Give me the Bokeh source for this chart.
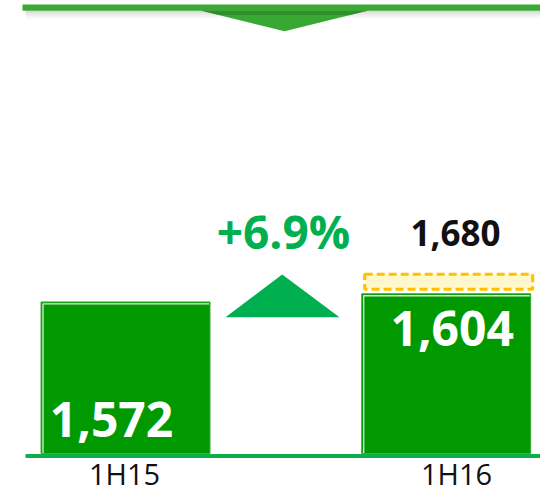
from bokeh.plotting import figure
from bokeh.models import Range1d
from bokeh.core.properties import value
from bokeh.embed import file_html
from bokeh.resources import INLINE

# ---------------- data ----------------
categories = ["1H15", "1H16"]
actual_values = [1572, 1604]
target_value = 1680
growth_label = "+6.9%"

# ---------------- layout (canvas px / value scale) ----------------
W, H = 540, 493
Y_BASE = 980            # value at the bottom of bars (truncated axis)
BASE_PX = 453           # canvas y of the bar bottoms
K = 0.256               # px per value unit
BAR_X = [125.0, 445.7]
BAR_W = 169.0
FONT = value("Open Sans")
BL = 0.38               # empirical baseline correction (fraction of font size)

def to_px(v):
    return BASE_PX - (v - Y_BASE) * K

def txt_y(baseline_px, size):
    return baseline_px - BL * size

y_lo = Y_BASE - (H - BASE_PX) / K
y_hi = Y_BASE + BASE_PX / K

p = figure(width=W, height=H, x_range=Range1d(0, W), y_range=Range1d(y_lo, y_hi),
           output_backend="svg", toolbar_location=None, min_border=0,
           x_axis_location=None, y_axis_location=None)
p.grid.visible = False
p.outline_line_color = None
p.background_fill_color = "white"
p.extra_y_ranges = {"px": Range1d(H, 0)}

# ---------------- top decoration ----------------
for i, a in enumerate([0.30, 0.20, 0.12, 0.06]):
    p.quad(left=25, right=W, bottom=10 + 2 * i, top=12 + 2 * i, y_range_name="px",
           fill_color="#808080", fill_alpha=a, line_color=None)
p.quad(left=22, right=W, bottom=4, top=10.3, y_range_name="px",
       fill_color="#3BAA34", line_color=None)
p.patch(x=[200, 368, 284], y=[10, 10, 30.7], y_range_name="px",
        fill_color="#39A733", line_color=None)
p.patch(x=[200, 368, 350, 218], y=[10, 10, 14.5, 14.5], y_range_name="px",
        fill_color="#2A7F27", fill_alpha=0.6, line_color=None)

# ---------------- bars ----------------
p.vbar(x=BAR_X, top=actual_values, bottom=Y_BASE, width=BAR_W,
       fill_color="#009900", line_color="#3DAA3D", line_width=1)
# inner white bevel line (left and top)
xs, ys = [], []
for xc, v in zip(BAR_X, actual_values):
    l = xc - BAR_W / 2 + 2
    r = xc + BAR_W / 2 - 1
    t = to_px(v) + 2
    xs.append([l, l, r])
    ys.append([BASE_PX - 0.5, t, t])
p.multi_line(xs=xs, ys=ys, y_range_name="px", line_color="white", line_width=1.3, line_alpha=0.85)

# target box (dashed)
p.quad(left=BAR_X[1] - BAR_W / 2 + 3, right=BAR_X[1] + BAR_W / 2 + 2,
       bottom=actual_values[1] + 18, top=target_value,
       fill_color="#FFF8CC", line_color="#FFC000", line_width=3, line_dash="8 4")

# baseline
p.segment(x0=[25], y0=[455.5], x1=[W], y1=[455.5], y_range_name="px",
          line_color="#0DB04B", line_width=4)

# growth arrow
p.patch(x=[225, 339, 281.7], y=[316.7, 316.7, 274], y_range_name="px",
        fill_color="#00B050", line_color=None)

# ---------------- texts ----------------
p.text(x=[BAR_X[0] - 14, BAR_X[1] + 6], y=[txt_y(437, 48), txt_y(346, 48)], y_range_name="px",
       text=[f"{v:,}" for v in actual_values], text_font=FONT, text_font_size="48px",
       text_font_style="bold", text_color="white", text_align="center",
       text_baseline="alphabetic")
p.text(x=[455], y=[txt_y(246, 35)], y_range_name="px", text=[f"{target_value:,}"], text_font=FONT,
       text_font_size="35px", text_font_style="bold", text_color="#111111",
       text_align="center", text_baseline="alphabetic")
p.text(x=[283], y=[txt_y(248, 46)], y_range_name="px", text=[growth_label], text_font=FONT,
       text_font_size="46px", text_font_style="bold", text_color="#00B050",
       text_align="center", text_baseline="alphabetic")
p.text(x=[124, 456], y=[492, 492], y_range_name="px", text=categories,
       text_font=FONT, text_font_size="29px", text_color="#111111", text_align="center",
       text_baseline="bottom")

open("out.html", "w").write(file_html(p, INLINE))
